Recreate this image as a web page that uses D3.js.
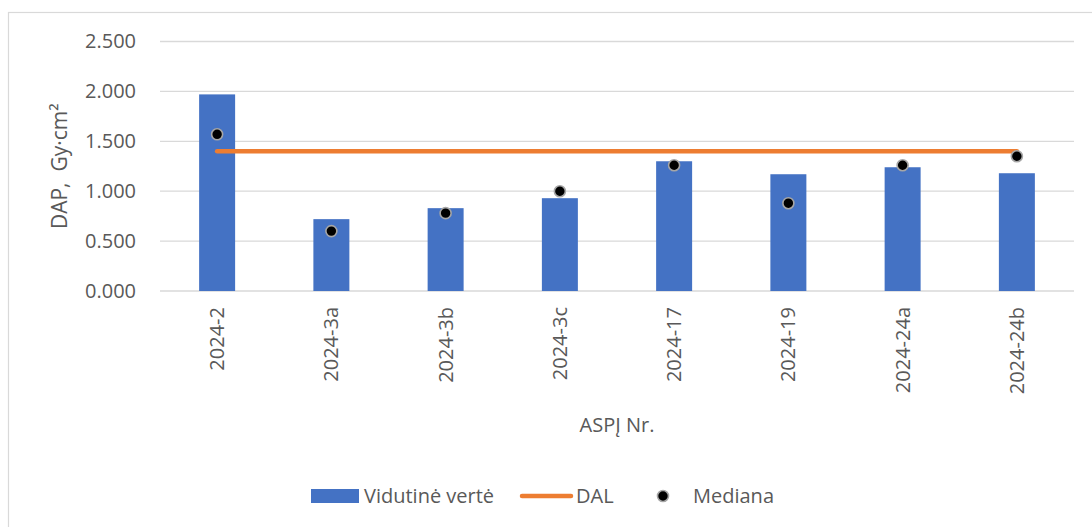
<!DOCTYPE html>
<html>
<head>
<meta charset="utf-8">
<script src="https://cdn.jsdelivr.net/npm/d3@7"></script>
<style>
  body { margin: 0; background: #fff; }
  text { font-family: 'Open Sans', 'Liberation Sans', sans-serif; fill: #595959; }
</style>
</head>
<body>
<svg width="1092" height="527"></svg>
<script>
const categories = ['2024-2', '2024-3a', '2024-3b', '2024-3c', '2024-17', '2024-19', '2024-24a', '2024-24b']
const average = [1.97, 0.72, 0.83, 0.93, 1.30, 1.17, 1.24, 1.18]
const median = [1.57, 0.60, 0.78, 1.00, 1.26, 0.88, 1.26, 1.35]
const dal = [1.40, 1.40, 1.40, 1.40, 1.40, 1.40, 1.40, 1.40]
const yTicks = [0, 0.5, 1.0, 1.5, 2.0, 2.5]

const svg = d3.select('svg')
const margin = {top: 41.5, right: 18, bottom: 236, left: 160}
const width = +svg.attr('width') - margin.left - margin.right
const height = +svg.attr('height') - margin.top - margin.bottom

// chart frame
svg.append('rect')
  .attr('x', 8.5).attr('y', 12.5)
  .attr('width', 1100).attr('height', 530)
  .attr('fill', 'none')
  .attr('stroke', '#d9d9d9')
  .attr('stroke-width', 1.2)

const g = svg.append('g').attr('transform', `translate(${margin.left},${margin.top})`)

const x = d3.scaleBand()
  .domain(categories)
  .range([0, width])
  .paddingInner(0.685)
  .paddingOuter(0.3425)

const y = d3.scaleLinear()
  .domain([0, 2.5])
  .range([height, 0])

const fmt = (d) => d3.format('.3f')(d)

// gridlines
g.append('g')
  .selectAll('line')
  .data(yTicks)
  .join('line')
  .attr('x1', 0).attr('x2', width)
  .attr('y1', (d) => y(d)).attr('y2', (d) => y(d))
  .attr('stroke', '#d9d9d9')
  .attr('stroke-width', 1.3)

// y axis labels
g.append('g')
  .call(d3.axisLeft(y).tickValues(yTicks).tickFormat(fmt).tickSize(0).tickPadding(24))
  .call((a) => a.select('.domain').remove())
  .selectAll('text')
  .style('font-size', '20px')
  .attr('fill', '#595959')

// bars
g.append('g')
  .selectAll('rect')
  .data(average)
  .join('rect')
  .attr('x', (d, i) => x(categories[i]))
  .attr('y', (d) => y(d))
  .attr('width', x.bandwidth())
  .attr('height', (d) => height - y(d))
  .attr('fill', '#4472c4')

// DAL line
const line = d3.line()
  .x((d, i) => x(categories[i]) + x.bandwidth() / 2)
  .y((d) => y(d))

g.append('path')
  .datum(dal)
  .attr('d', line)
  .attr('fill', 'none')
  .attr('stroke', '#ed7d31')
  .attr('stroke-width', 4.5)
  .attr('stroke-linecap', 'round')

// median markers
g.append('g')
  .selectAll('circle')
  .data(median)
  .join('circle')
  .attr('cx', (d, i) => x(categories[i]) + x.bandwidth() / 2)
  .attr('cy', (d) => y(d))
  .attr('r', 5.5)
  .attr('fill', '#000')
  .attr('stroke', '#a6a6a6')
  .attr('stroke-width', 1.6)

// x axis labels, rotated
g.append('g')
  .attr('transform', `translate(0,${height})`)
  .call(d3.axisBottom(x).tickSize(0).tickPadding(0))
  .call((a) => a.select('.domain').remove())
  .selectAll('text')
  .style('font-size', '20px')
  .attr('fill', '#595959')
  .attr('transform', 'rotate(-90)')
  .attr('text-anchor', 'end')
  .attr('x', -16)
  .attr('y', 0)
  .attr('dy', '0.35em')

// axis titles
svg.append('text')
  .attr('transform', `translate(60,${margin.top + height / 2}) rotate(-90)`)
  .attr('text-anchor', 'middle')
  .attr('dy', '0.35em')
  .style('font-size', '21px')
  .style('white-space', 'pre')
  .text('DAP,  Gy·cm²')

svg.append('text')
  .attr('x', margin.left + width / 2)
  .attr('y', 432)
  .attr('text-anchor', 'middle')
  .style('font-size', '20px')
  .text('ASPĮ Nr.')

// legend
const legend = svg.append('g').attr('transform', 'translate(0,496)')
legend.append('rect')
  .attr('x', 311).attr('y', -7).attr('width', 48).attr('height', 14)
  .attr('fill', '#4472c4')
legend.append('text')
  .attr('x', 364).attr('dy', '0.35em')
  .style('font-size', '20px')
  .text('Vidutinė vertė')
legend.append('line')
  .attr('x1', 522).attr('x2', 571)
  .attr('stroke', '#ed7d31').attr('stroke-width', 4.5).attr('stroke-linecap', 'round')
legend.append('text')
  .attr('x', 576).attr('dy', '0.35em')
  .style('font-size', '20px')
  .text('DAL')
legend.append('circle')
  .attr('cx', 663).attr('r', 5.5)
  .attr('fill', '#000').attr('stroke', '#a6a6a6').attr('stroke-width', 1.6)
legend.append('text')
  .attr('x', 693).attr('dy', '0.35em')
  .style('font-size', '20px')
  .text('Mediana')
</script>
</body>
</html>
